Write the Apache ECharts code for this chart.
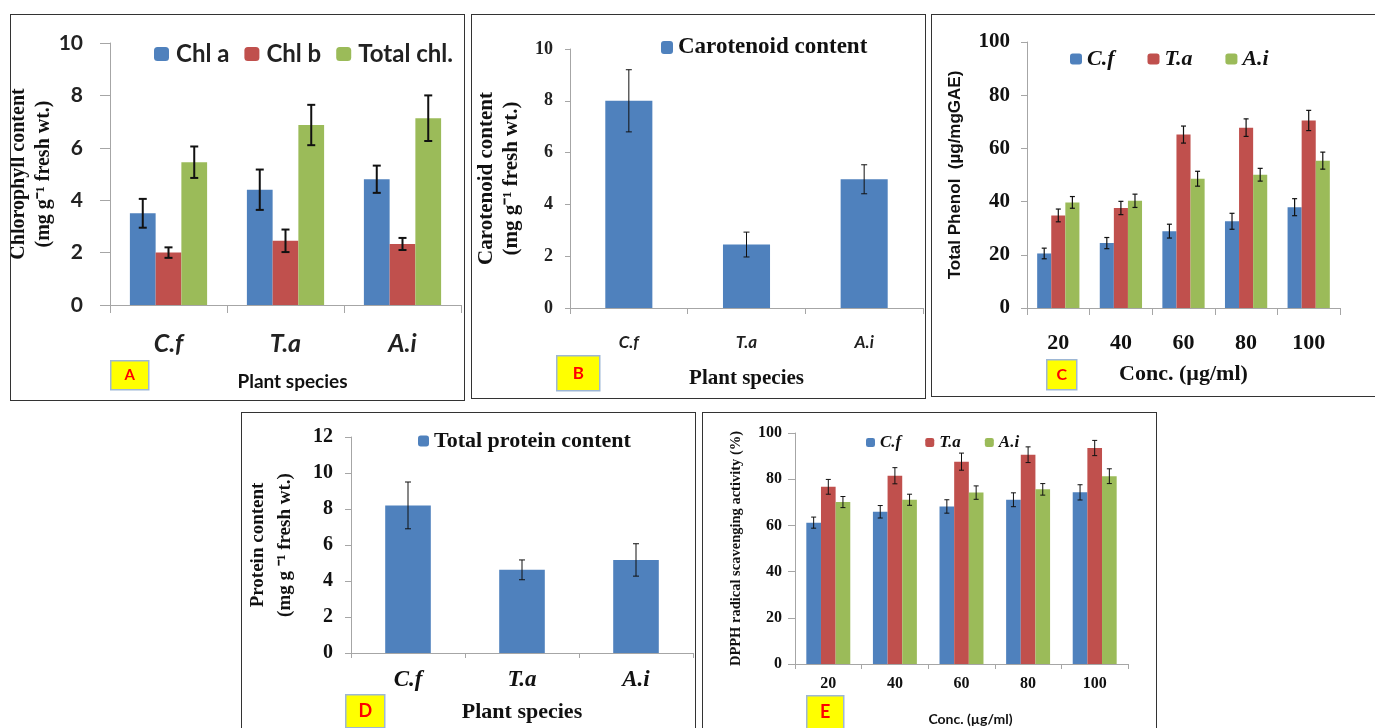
<!DOCTYPE html>
<html>
<head>
<meta charset="UTF-8" />
<title>Plant extracts - panels A-E</title>
<script src="https://cdn.jsdelivr.net/npm/echarts@6/dist/echarts.min.js"></script>
<style>
  html, body { margin: 0; padding: 0; background: #fff; width: 1375px; height: 728px; overflow: hidden; position: relative; }
  .panel { position: absolute; border: 1px solid #333; box-sizing: border-box; background: #fff; }
  .panel > div { width: 100%; height: 100%; }
</style>
</head>
<body>
  <div class="panel" style="left:10px;top:14px;width:455px;height:387px"><div id="chartA"></div></div>
  <div class="panel" style="left:471px;top:14px;width:455px;height:385px"><div id="chartB"></div></div>
  <div class="panel" style="left:931px;top:14px;width:452px;height:383px"><div id="chartC"></div></div>
  <div class="panel" style="left:241px;top:412px;width:455px;height:330px"><div id="chartD"></div></div>
  <div class="panel" style="left:702px;top:412px;width:455px;height:330px"><div id="chartE"></div></div>
<script>
const speciesCats = ['C.f', 'T.a', 'A.i'];
const concCats = ['20', '40', '60', '80', '100'];

// A - chlorophyll
const chlA = [3.5, 4.4, 4.8];
const chlAErr = [0.55, 0.77, 0.52];
const chlB = [2.0, 2.45, 2.33];
const chlBErr = [0.2, 0.43, 0.23];
const totalChl = [5.45, 6.87, 7.13];
const totalChlErr = [0.6, 0.77, 0.87];

// B - carotenoid
const carotenoid = [8.0, 2.45, 4.97];
const carotenoidErr = [1.2, 0.48, 0.56];

// C - total phenol
const phenolCf = [20.5, 24.4, 28.9, 32.6, 37.9];
const phenolCfErr = [2.0, 2.1, 2.6, 3.0, 3.2];
const phenolTa = [34.8, 37.6, 65.2, 67.8, 70.5];
const phenolTaErr = [2.4, 2.5, 3.2, 3.3, 3.8];
const phenolAi = [39.7, 40.3, 48.6, 50.1, 55.4];
const phenolAiErr = [2.2, 2.5, 2.8, 2.4, 3.2];

// D - protein
const protein = [8.2, 4.62, 5.17];
const proteinErr = [1.3, 0.55, 0.9];

// E - DPPH
const dpphCf = [61.2, 65.9, 68.2, 71.1, 74.3];
const dpphCfErr = [2.4, 2.7, 2.9, 3.0, 3.3];
const dpphTa = [76.7, 81.5, 87.6, 90.6, 93.5];
const dpphTaErr = [3.2, 3.5, 3.7, 3.4, 3.3];
const dpphAi = [70.1, 71.1, 74.2, 75.6, 81.3];
const dpphAiErr = [2.4, 2.4, 2.9, 2.5, 3.2];

const BLUE = '#4F81BD', RED = '#C0504D', GREEN = '#9BBB59';
const SERIF = '"Liberation Serif", "Times New Roman", serif';
const SANS = 'Lato, "Liberation Sans", sans-serif';
const AXIS_GRAY = '#A6A6A6';

// error bars drawn on top of a group of n bars, idx = position in group
function errorBars(vals, errs, n, idx, frac, cap, lw) {
  return {
    type: 'custom',
    z: 5,
    silent: true,
    data: vals.map((v, i) => [i, v, errs[i]]),
    encode: { x: 0, y: 1 },
    renderItem: function (params, api) {
      const c = api.value(0), v = api.value(1), e = api.value(2);
      const band = api.size([1, 0])[0];
      const w = band * frac;
      const x = api.coord([c, v])[0] + (idx - (n - 1) / 2) * w;
      const y1 = api.coord([c, v + e])[1];
      const y2 = api.coord([c, v - e])[1];
      const st = { stroke: '#111', lineWidth: lw };
      return {
        type: 'group',
        children: [
          { type: 'line', shape: { x1: x, y1: y1, x2: x, y2: y2 }, style: st },
          { type: 'line', shape: { x1: x - cap, y1: y1, x2: x + cap, y2: y1 }, style: st },
          { type: 'line', shape: { x1: x - cap, y1: y2, x2: x + cap, y2: y2 }, style: st }
        ]
      };
    }
  };
}

function letterBox(letter, left, top, w, h, fontSize) {
  return {
    type: 'group', left: left, top: top,
    children: [
      { type: 'rect', shape: { x: 0, y: 0, width: w, height: h }, style: { fill: '#FFFF00', stroke: '#9DB7D5', lineWidth: 1.5 } },
      { type: 'text', style: { text: letter, x: w / 2, y: h / 2, align: 'center', verticalAlign: 'middle', fill: '#FF0000', font: 'bold ' + fontSize + 'px ' + SANS } }
    ]
  };
}

function makeGrid(left, top, width, height) {
  return { left: left, top: top, width: width, height: height, outerBoundsMode: 'none', containLabel: false };
}

function valueAxis(max, interval, label, tick, name) {
  return Object.assign({
    type: 'value', min: 0, max: max, interval: interval,
    nameLocation: 'middle', nameRotate: 90, nameMoveOverlap: false,
    axisLine: { show: true, lineStyle: { color: AXIS_GRAY, width: 1 } },
    axisTick: { show: true, length: tick, lineStyle: { color: AXIS_GRAY } },
    splitLine: { show: false },
    axisLabel: label
  }, name);
}

function catAxis(data, label, tick, name) {
  return Object.assign({
    type: 'category', data: data,
    nameLocation: 'middle', nameMoveOverlap: false,
    axisLine: { show: true, lineStyle: { color: AXIS_GRAY, width: 1 } },
    axisTick: { show: true, length: tick, lineStyle: { color: AXIS_GRAY } },
    axisLabel: label
  }, name);
}

// ---------- A ----------
echarts.init(document.getElementById('chartA')).setOption({
  animation: false,
  grid: makeGrid(99, 28, 351, 262),
  legend: {
    data: ['Chl a', 'Chl b', 'Total chl.'], left: 138, top: 22,
    itemWidth: 15, itemHeight: 14, itemGap: 15, itemStyle: { borderWidth: 0 },
    textStyle: { fontFamily: SANS, fontSize: 24, fontWeight: 'bold', color: '#222', padding: [0, 0, 0, 2] }
  },
  xAxis: catAxis(speciesCats,
    { fontFamily: SANS, fontSize: 25, fontWeight: 'bold', fontStyle: 'italic', color: '#222', margin: 26 }, 8,
    { name: 'Plant species', nameGap: 67,
      nameTextStyle: { fontFamily: SANS, fontSize: 19, fontWeight: 'bold', color: '#111', padding: [0, 0, 0, 14] } }),
  yAxis: valueAxis(10, 2,
    { fontFamily: SANS, fontSize: 21, fontWeight: 'bold', color: '#222', margin: 27 }, 10,
    { name: 'Chlorophyll content\n(mg g\u207B\u00B9 fresh wt.)', nameGap: 54,
      nameTextStyle: { fontFamily: SERIF, fontSize: 20, fontWeight: 'bold', color: '#111', lineHeight: 25 } }),
  series: [
    { name: 'Chl a', type: 'bar', data: chlA, barWidth: '22%', barGap: '0%', itemStyle: { color: BLUE } },
    { name: 'Chl b', type: 'bar', data: chlB, barWidth: '22%', barGap: '0%', itemStyle: { color: RED } },
    { name: 'Total chl.', type: 'bar', data: totalChl, barWidth: '22%', barGap: '0%', itemStyle: { color: GREEN } },
    errorBars(chlA, chlAErr, 3, 0, 0.22, 4, 2),
    errorBars(chlB, chlBErr, 3, 1, 0.22, 4, 2),
    errorBars(totalChl, totalChlErr, 3, 2, 0.22, 4, 2)
  ],
  graphic: [letterBox('A', 99, 345, 38, 29, 15)]
});

// ---------- B ----------
echarts.init(document.getElementById('chartB')).setOption({
  animation: false,
  grid: makeGrid(98, 34, 353, 259),
  legend: {
    data: ['Carotenoid content'], left: 184, top: 16,
    itemWidth: 12, itemHeight: 13,
    textStyle: { fontFamily: SERIF, fontSize: 23, fontWeight: 'bold', color: '#111' }
  },
  xAxis: catAxis(speciesCats,
    { fontFamily: SANS, fontSize: 17, fontWeight: 'bold', fontStyle: 'italic', color: '#222', margin: 26 }, 6,
    { name: 'Plant species', nameGap: 60, nameTextStyle: { fontFamily: SERIF, fontSize: 21, fontWeight: 'bold', color: '#111' } }),
  yAxis: valueAxis(10, 2,
    { fontFamily: SERIF, fontSize: 18, fontWeight: 'bold', color: '#222', margin: 17 }, 5,
    { name: 'Carotenoid content\n(mg g\u207B\u00B9 fresh wt.)', nameGap: 46,
      nameTextStyle: { fontFamily: SERIF, fontSize: 21, fontWeight: 'bold', color: '#111', lineHeight: 25 } }),
  series: [
    { name: 'Carotenoid content', type: 'bar', data: carotenoid, barWidth: '40%', itemStyle: { color: BLUE } },
    errorBars(carotenoid, carotenoidErr, 1, 0, 0.4, 3, 1)
  ],
  graphic: [letterBox('B', 84, 340, 43, 35, 17)]
});

// ---------- C ----------
echarts.init(document.getElementById('chartC')).setOption({
  animation: false,
  grid: makeGrid(95, 27, 313, 266),
  legend: {
    data: ['C.f', 'T.a', 'A.i'], left: 133, top: 28,
    itemWidth: 12, itemHeight: 11, itemGap: 33,
    textStyle: { fontFamily: SERIF, fontSize: 22, fontWeight: 'bold', fontStyle: 'italic', color: '#111' }
  },
  xAxis: catAxis(concCats,
    { fontFamily: SERIF, fontSize: 22, fontWeight: 'bold', color: '#111', margin: 24 }, 7,
    { name: 'Conc. (\u00B5g/ml)', nameGap: 55, nameTextStyle: { fontFamily: SERIF, fontSize: 22, fontWeight: 'bold', color: '#111' } }),
  yAxis: valueAxis(100, 20,
    { fontFamily: SERIF, fontSize: 21, fontWeight: 'bold', color: '#111', margin: 17 }, 6,
    { name: 'Total Phenol  (\u00B5g/mgGAE)', nameGap: 63,
      nameTextStyle: { fontFamily: '"Liberation Sans", Arial, sans-serif', fontSize: 17, fontWeight: 'bold', color: '#111' } }),
  series: [
    { name: 'C.f', type: 'bar', data: phenolCf, barWidth: '22.5%', barGap: '0%', itemStyle: { color: BLUE } },
    { name: 'T.a', type: 'bar', data: phenolTa, barWidth: '22.5%', barGap: '0%', itemStyle: { color: RED } },
    { name: 'A.i', type: 'bar', data: phenolAi, barWidth: '22.5%', barGap: '0%', itemStyle: { color: GREEN } },
    errorBars(phenolCf, phenolCfErr, 3, 0, 0.225, 2.5, 1.2),
    errorBars(phenolTa, phenolTaErr, 3, 1, 0.225, 2.5, 1.2),
    errorBars(phenolAi, phenolAiErr, 3, 2, 0.225, 2.5, 1.2)
  ],
  graphic: [letterBox('C', 114, 344, 30, 30, 16)]
});

// ---------- D ----------
echarts.init(document.getElementById('chartD')).setOption({
  animation: false,
  grid: makeGrid(109, 24, 342, 216),
  legend: {
    data: ['Total protein content'], left: 171, top: 12,
    itemWidth: 11, itemHeight: 11,
    textStyle: { fontFamily: SERIF, fontSize: 22, fontWeight: 'bold', color: '#111' }
  },
  xAxis: catAxis(speciesCats,
    { fontFamily: SERIF, fontSize: 23, fontWeight: 'bold', fontStyle: 'italic', color: '#111', margin: 16 }, 5,
    { name: 'Plant species', nameGap: 48, nameTextStyle: { fontFamily: SERIF, fontSize: 22, fontWeight: 'bold', color: '#111' } }),
  yAxis: valueAxis(12, 2,
    { fontFamily: SERIF, fontSize: 20, fontWeight: 'bold', color: '#111', margin: 18 }, 6,
    { name: 'Protein content\n(mg g \u207B\u00B9 fresh wt.)', nameGap: 52,
      nameTextStyle: { fontFamily: SERIF, fontSize: 19, fontWeight: 'bold', color: '#111', lineHeight: 27 } }),
  series: [
    { name: 'Total protein content', type: 'bar', data: protein, barWidth: '40%', itemStyle: { color: BLUE } },
    errorBars(protein, proteinErr, 1, 0, 0.4, 3, 1)
  ],
  graphic: [letterBox('D', 103, 281, 39, 33, 18)]
});

// ---------- E ----------
echarts.init(document.getElementById('chartE')).setOption({
  animation: false,
  grid: makeGrid(92, 20, 333, 231),
  legend: {
    data: ['C.f', 'T.a', 'A.i'], left: 158, top: 16,
    itemWidth: 9, itemHeight: 9, itemGap: 24,
    textStyle: { fontFamily: SERIF, fontSize: 17, fontWeight: 'bold', fontStyle: 'italic', color: '#111' }
  },
  xAxis: catAxis(concCats,
    { fontFamily: SERIF, fontSize: 16, fontWeight: 'bold', color: '#111', margin: 12 }, 5,
    { name: 'Conc. (\u00B5g/ml)', nameGap: 48,
      nameTextStyle: { fontFamily: SANS, fontSize: 14, fontWeight: 'bold', color: '#111', padding: [0, 0, 0, 18] } }),
  yAxis: valueAxis(100, 20,
    { fontFamily: SERIF, fontSize: 16, fontWeight: 'bold', color: '#111', margin: 13 }, 7,
    { name: 'DPPH radical scavenging activity (%)', nameGap: 51,
      nameTextStyle: { fontFamily: SERIF, fontSize: 14.5, fontWeight: 'bold', color: '#111' } }),
  series: [
    { name: 'C.f', type: 'bar', data: dpphCf, barWidth: '22%', barGap: '0%', itemStyle: { color: BLUE } },
    { name: 'T.a', type: 'bar', data: dpphTa, barWidth: '22%', barGap: '0%', itemStyle: { color: RED } },
    { name: 'A.i', type: 'bar', data: dpphAi, barWidth: '22%', barGap: '0%', itemStyle: { color: GREEN } },
    errorBars(dpphCf, dpphCfErr, 3, 0, 0.22, 2.5, 1),
    errorBars(dpphTa, dpphTaErr, 3, 1, 0.22, 2.5, 1),
    errorBars(dpphAi, dpphAiErr, 3, 2, 0.22, 2.5, 1)
  ],
  graphic: [letterBox('E', 103, 282, 37, 33, 18)]
});
</script>
</body>
</html>
